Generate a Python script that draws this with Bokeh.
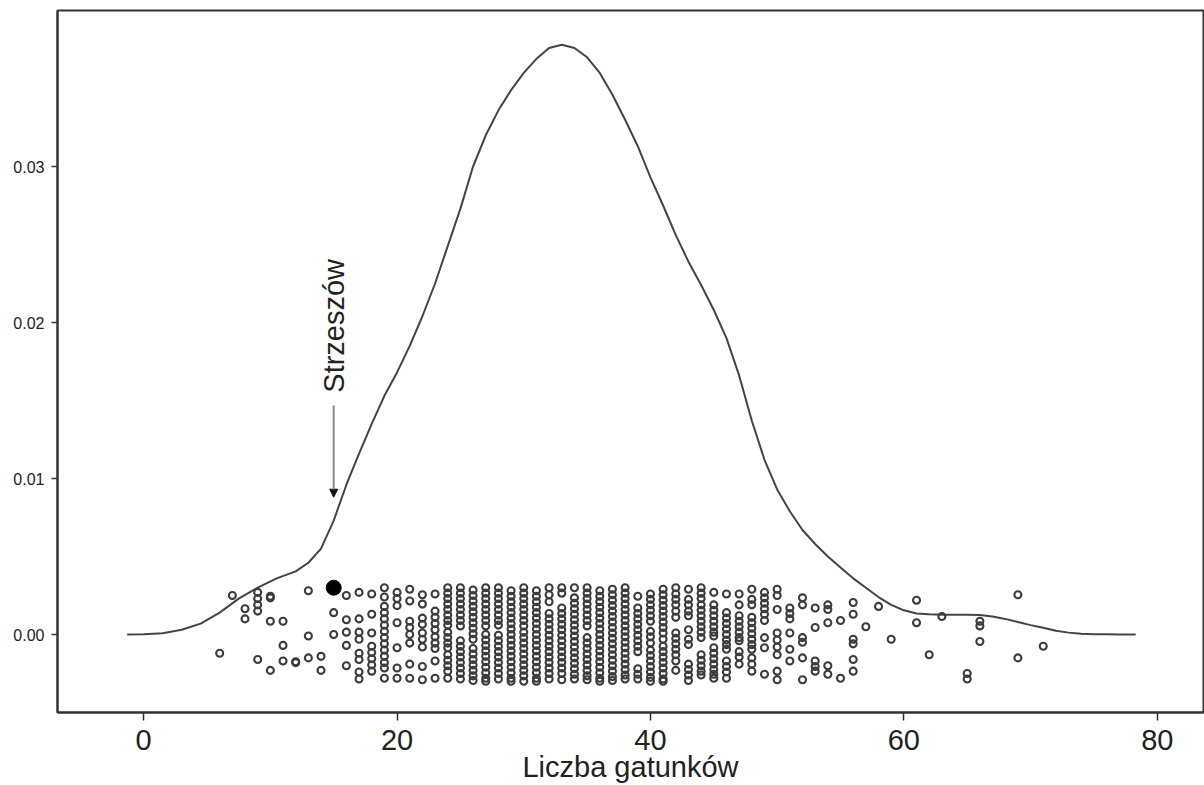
import math
from bokeh.plotting import figure
from bokeh.models import Range1d, FixedTicker, PrintfTickFormatter, Arrow, NormalHead
from bokeh.core.properties import value
from bokeh.embed import file_html
from bokeh.resources import INLINE

FONT = "Liberation Sans"

# Density curve (x = number of species, y = density)
density_x = [-1.3, 0, 1.5, 3, 4.5, 6, 7.5, 9, 10.5, 12, 13, 14, 15, 16, 17, 18, 19, 20,
             21, 22, 23, 24, 25, 26, 27, 28, 29, 30, 31, 32, 33, 34, 35, 36, 37, 38, 39,
             40, 41, 42, 43, 44, 45, 46, 47, 48, 49, 50, 51, 52, 53, 54, 55, 56, 57, 58,
             59, 60, 61, 62, 63, 64, 65, 66, 67, 68, 69, 70, 71, 72, 73, 74, 75, 76, 77, 78.3]
density_y = [0.0, 0.00001, 0.00008, 0.0003, 0.0007, 0.0014, 0.0023, 0.0030, 0.0036, 0.00405,
             0.0046, 0.0055, 0.0073, 0.0096, 0.0116, 0.0135, 0.0153, 0.0168,
             0.0185, 0.0204, 0.0225, 0.0249, 0.0273, 0.0300, 0.0320, 0.0336, 0.0349, 0.0360,
             0.0369, 0.0376, 0.0378, 0.0376, 0.0370, 0.0360, 0.0346, 0.0330, 0.0313,
             0.0293, 0.0275, 0.0256, 0.0239, 0.0224, 0.0208, 0.0190, 0.0166, 0.0137, 0.0112,
             0.0093, 0.0079, 0.0067, 0.0058, 0.0050, 0.0043, 0.0036, 0.0030, 0.0024,
             0.0019, 0.00155, 0.00135, 0.0013, 0.00127, 0.00126, 0.00127, 0.00125, 0.00115,
             0.0010, 0.0008, 0.0006, 0.00043, 0.00024, 0.00012, 0.00005, 0.00002, 0.00001, 0.0, 0.0]

# Jittered observations: species count per site, vertical jitter in units of 0.001
column_x = [6, 7, 8, 9, 10, 11, 12, 13, 14, 15, 16, 17, 18, 19, 20, 21, 22, 23, 24, 25,
            26, 27, 28, 29, 30, 31, 32, 33, 34, 35, 36, 37, 38, 39, 40, 41, 42, 43, 44,
            45, 46, 47, 48, 49, 50, 51, 52, 53, 54, 55, 56, 57, 58, 59, 61, 62, 63, 65,
            66, 69, 71]
column_y_milli = [
    [-1.2],
    [2.5],
    [1.65, 1.0],
    [2.7, 2.3, 1.9, 1.5, -1.6],
    [2.45, 2.35, 0.85, -2.3],
    [0.85, -0.7, -1.7],
    [-1.8, -1.75],
    [2.8, -0.1, -1.5],
    [-1.4, -2.3],
    [1.4, 0.0],
    [2.5, 0.95, 0.15, -0.7, -2.0],
    [2.7, 1.0, 0.15, -0.3, -1.2, -1.6, -2.4, -2.85],
    [2.6, 1.3, 0.1, -0.75, -1.15, -1.55, -1.95, -2.35],
    [3.0, 2.4, 1.8, 1.4, 1.0, 0.6, 0.2, -0.2, -0.6, -1.0, -1.4, -1.8, -2.15, -2.8],
    [2.7, 2.3, 1.85, 0.75, -0.85, -2.15, -2.8],
    [2.9, 2.15, 0.85, 0.45, 0.0, -0.55, -1.9, -2.8],
    [2.55, 1.95, 1.05, 0.65, 0.1, -0.3, -0.8, -2.05, -2.9],
    [2.6, 1.5, 1.1, 0.7, 0.3, -0.15, -0.55, -0.9, -1.7, -2.8],
    [3.0, 2.65, 2.3, 1.95, 1.6, 1.25, 0.9, 0.6, 0.15, -0.2, -0.55, -0.85, -1.3, -1.65, -2.0, -2.35, -2.8],
    [3.0, 2.65, 2.3, 1.95, 1.6, 1.25, 0.9, 0.55, -0.4, -0.75, -1.1, -1.45, -1.8, -2.15, -2.5, -2.85],
    [2.85, 2.5, 2.15, 1.8, 1.45, 1.1, 0.75, 0.4, 0.05, -0.3, -0.9, -1.25, -1.6, -1.95, -2.3, -2.65, -2.95],
    [3.0, 2.65, 2.3, 1.95, 1.6, 1.25, 0.9, 0.55, 0.0, -0.35, -0.7, -1.05, -1.4, -1.75, -2.1, -2.45, -2.8, -3.0],
    [3.0, 2.65, 2.3, 1.95, 1.6, 1.25, 0.9, 0.6, -0.05, -0.4, -0.75, -1.1, -1.45, -1.8, -2.15, -2.5, -2.85],
    [2.8, 2.45, 2.1, 1.75, 1.4, 1.05, 0.7, 0.35, 0.0, -0.35, -0.7, -1.05, -1.4, -1.75, -2.1, -2.45, -2.8, -3.0],
    [3.0, 2.65, 2.3, 1.95, 1.6, 1.25, 0.9, 0.55, 0.15, -0.2, -0.55, -0.9, -1.25, -1.6, -1.95, -2.3, -2.65, -3.0],
    [2.8, 2.45, 2.1, 1.75, 1.4, 1.05, 0.7, 0.35, 0.0, -0.35, -0.7, -1.05, -1.4, -1.75, -2.1, -2.45, -2.8, -3.0],
    [3.0, 2.55, 2.1, 1.35, 1.0, 0.65, 0.3, -0.05, -0.4, -0.75, -1.1, -1.45, -1.8, -2.15, -2.5, -2.85],
    [3.0, 2.65, 1.7, 1.35, 1.0, 0.65, 0.3, -0.05, -0.4, -0.75, -1.1, -1.45, -1.8, -2.15, -2.5, -2.9],
    [3.0, 2.35, 2.0, 1.65, 1.3, 0.95, 0.6, 0.25, -0.1, -0.45, -0.8, -1.15, -1.5, -1.85, -2.2, -2.55, -2.85],
    [3.0, 2.65, 2.3, 1.95, 1.6, 1.25, 0.9, 0.55, -0.2, -0.55, -0.9, -1.25, -1.6, -1.95, -2.3, -2.65, -2.9],
    [2.8, 2.45, 2.1, 1.75, 1.4, 1.05, 0.7, 0.35, 0.0, -0.35, -0.7, -1.05, -1.4, -1.75, -2.1, -2.45, -2.8, -3.0],
    [2.9, 2.55, 2.2, 1.85, 1.5, 1.15, 0.8, 0.45, 0.1, -0.25, -0.6, -0.95, -1.3, -1.65, -2.0, -2.35, -2.7, -2.95],
    [3.0, 2.65, 2.3, 1.95, 1.6, 1.25, 0.9, 0.55, 0.2, -0.15, -0.5, -0.85, -1.2, -1.55, -1.9, -2.25, -2.6, -2.85],
    [2.45, 1.7, 1.35, 1.0, 0.65, 0.3, -0.05, -0.4, -0.75, -1.1, -2.2, -2.55, -2.85],
    [2.6, 2.25, 1.9, 1.55, 1.2, 0.85, 0.2, -0.15, -0.55, -1.0, -1.35, -1.7, -2.05, -2.4, -2.75, -3.0],
    [2.9, 2.55, 2.2, 1.85, 1.5, 1.15, 0.8, 0.45, 0.1, -0.3, -0.75, -1.1, -1.45, -1.8, -2.15, -2.5, -2.85, -3.0],
    [3.0, 2.6, 2.25, 1.9, 1.5, 1.1, 0.1, -0.25, -0.6, -0.95, -1.3, -1.7, -2.3],
    [2.9, 2.25, 1.9, 1.5, 1.2, 0.3, -0.3, -0.65, -1.9, -2.25, -2.6, -2.95],
    [3.0, 2.65, 2.3, 1.9, 1.55, 1.2, 0.85, 0.5, 0.15, -0.2, -1.3, -1.65, -2.0, -2.35, -2.6],
    [2.7, 1.9, 1.55, 1.2, 0.85, 0.5, 0.15, -0.1, -0.85, -1.2, -1.55, -1.9, -2.25, -2.55, -2.8],
    [2.6, 1.4, 1.05, 0.7, 0.35, 0.0, -0.35, -0.65, -0.95, -1.7, -2.05, -2.4, -2.8],
    [2.6, 1.9, 1.2, 0.85, 0.5, 0.15, -0.2, -0.4, -1.1, -1.45, -1.9],
    [2.9, 2.25, 1.9, 1.1, 0.75, 0.4, 0.05, -0.3, -0.65, -0.95, -1.5, -1.9, -2.35],
    [2.7, 2.35, 2.0, 1.65, 1.3, 0.9, -0.2, -0.85, -2.55],
    [2.9, 2.5, 1.6, 0.1, -0.35, -0.8, -1.3, -2.35, -2.9],
    [1.7, 1.35, 1.0, 0.1, -0.95, -1.7],
    [2.35, 1.9, -0.2, -0.5, -1.5, -2.9],
    [1.7, 0.45, -1.7, -2.05, -2.35],
    [1.9, 1.6, 0.75, -2.0, -2.55],
    [0.9, -2.8],
    [2.05, 1.3, -0.3, -0.6, -1.6, -2.35],
    [0.5],
    [1.8],
    [-0.3],
    [2.2, 0.75],
    [-1.3],
    [1.15],
    [-2.5, -2.85],
    [0.85, 0.55, -0.45],
    [2.55, -1.5],
    [-0.75],
]

# Highlighted site
highlight_x = [15]
highlight_y = [0.003]
highlight_name = ["Strzeszów"]

x_ticks = [0, 20, 40, 60, 80]
y_ticks = [0.0, 0.01, 0.02, 0.03]
x_title = "Liczba gatunków"

pts_x = []
pts_y = []
for cx, ys in zip(column_x, column_y_milli):
    for yv in ys:
        pts_x.append(cx)
        pts_y.append(yv / 1000.0)

p = figure(width=1204, height=785, output_backend="svg", toolbar_location=None,
           x_range=Range1d(-6.8, 83.65), y_range=Range1d(-0.005, 0.04),
           min_border_left=57, min_border_right=1, min_border_top=10, min_border_bottom=73)

p.background_fill_color = "white"
p.border_fill_color = "white"
p.outline_line_color = "#333333"
p.outline_line_width = 2
p.xgrid.visible = False
p.ygrid.visible = False

# axes
p.xaxis.ticker = FixedTicker(ticks=x_ticks)
p.yaxis.ticker = FixedTicker(ticks=y_ticks)
p.yaxis.formatter = PrintfTickFormatter(format="%.2f")
for ax in (p.xaxis[0], p.yaxis[0]):
    ax.axis_line_color = "#333333"
    ax.axis_line_width = 2
    ax.major_tick_line_color = "#333333"
    ax.major_tick_line_width = 1.5
    ax.major_tick_in = 0
    ax.minor_tick_line_color = None
    ax.major_label_text_font = FONT
    ax.major_label_text_color = "#222222"
p.xaxis.major_tick_out = 8
p.xaxis.major_label_text_font_size = "29px"
p.xaxis.major_label_standoff = 9
p.xaxis.axis_label = x_title
p.xaxis.axis_label_text_font = FONT
p.xaxis.axis_label_text_font_size = "29px"
p.xaxis.axis_label_text_font_style = "normal"
p.xaxis.axis_label_text_color = "#222222"
p.xaxis.axis_label_standoff = -2
p.yaxis.major_tick_out = 6
p.yaxis.major_label_text_font_size = "16px"
p.yaxis.major_label_standoff = 7

# density curve
p.line(density_x, density_y, line_color="#444444", line_width=2)

# jittered points
p.scatter(pts_x, pts_y, marker="circle", size=7, fill_alpha=0,
          line_color="#3c3c3c", line_width=2.1)

# highlighted site
p.scatter(highlight_x, highlight_y, marker="circle", size=15, fill_color="black",
          line_color="black")

# label + arrow
p.text(x=[highlight_x[0]], y=[0.0155], text=highlight_name, angle=math.pi / 2,
       text_align="left", text_baseline="middle", text_font=value(FONT),
       text_font_size="29px", text_color="#222222")
p.add_layout(Arrow(x_start=highlight_x[0], y_start=0.01468, x_end=highlight_x[0], y_end=0.0088,
                   line_color="#888888", line_width=2,
                   end=NormalHead(size=8, fill_color="#111111", line_color="#111111")))

open("out.html", "w").write(file_html(p, INLINE))
